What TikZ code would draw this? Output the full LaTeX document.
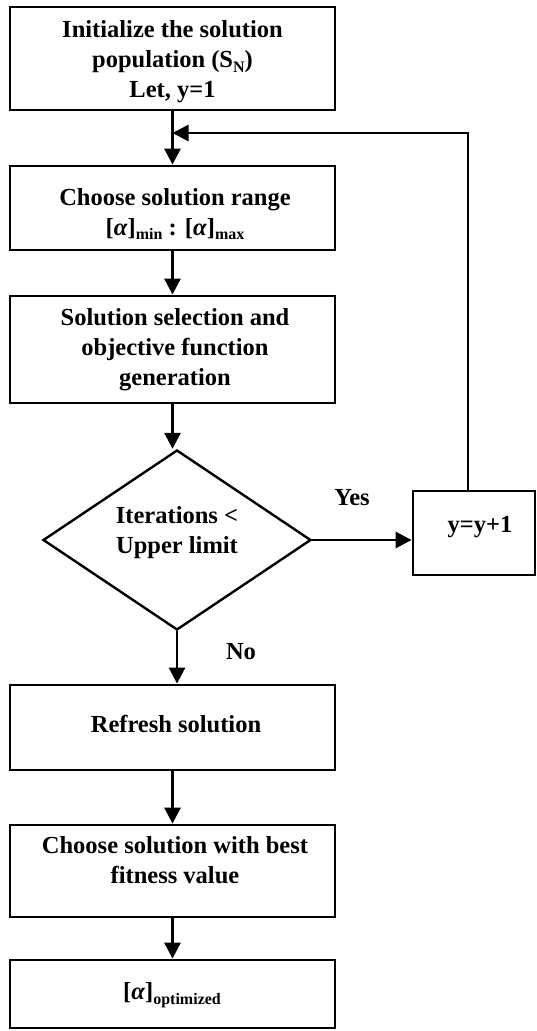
\documentclass[tikz,border=0pt]{standalone}
\usepackage{fontspec}
\setmainfont{Liberation Serif}
\usetikzlibrary{arrows.meta,shapes.geometric}

% lowered small subscript in the box texts
\newcommand{\lowsub}[1]{\raisebox{-4.5pt}{\fontsize{16}{16}\selectfont #1}}

\begin{document}
\begin{tikzpicture}[x=1pt,y=-1pt,
  box/.style={draw=black,line width=2.8pt,rectangle,inner sep=0pt,minimum width=325pt},
  smallbox/.style={draw=black,line width=2.8pt,rectangle,inner sep=0pt,minimum width=122pt,minimum height=84pt},
  decision/.style={draw=black,line width=2.4pt,diamond,inner sep=0pt,minimum width=268pt,minimum height=180pt},
  txt/.style={align=center,font=\fontsize{24.5}{30}\selectfont\bfseries,inner sep=0pt},
  lbl/.style={font=\fontsize{24.5}{30}\selectfont\bfseries,inner sep=0pt},
  arr/.style={draw=black,line width=2.8pt,-{Triangle[length=16pt,width=16pt]}},
]
\useasboundingbox (0,0) rectangle (536,1031);

% process boxes
\node[box,minimum height=103pt] (b1) at (172.5,58.5) {};
\node[box,minimum height=84pt]  (b2) at (172.5,208) {};
\node[box,minimum height=107pt] (b3) at (172.5,349.5) {};
\node[decision] (d) at (177,540) {};
\node[smallbox] (yb) at (474,533) {};
\node[box,minimum height=85pt]  (b4) at (172.5,727.5) {};
\node[box,minimum height=92pt]  (b5) at (172.5,871) {};
\node[box,minimum height=68pt]  (b6) at (172.5,994) {};

% box texts
\node[txt] (t1) at (172.5,62) {Initialize the solution\\population (S\lowsub{N})\\Let, y=1};
\node[txt] (t2) at (175,214) {Choose solution range\\{[}\textit{α}{]}\lowsub{min} : {[}\textit{α}{]}\lowsub{max}};
\node[txt] (t3) at (175,350) {Solution selection and\\objective function\\generation};
\node[txt] (td) at (177,533) {Iterations <\\Upper limit};
\node[txt] (ty) at (480,527) {y=y+1};
\node[txt] (t4) at (176,724) {Refresh solution};
\node[txt] (t5) at (175,860) {Choose solution with best\\fitness value};
\node[txt] (t6) at (172,995) {{[}\textit{α}{]}\lowsub{optimized}};

% branch labels
\node[lbl] (yes) at (352,498) {Yes};
\node[lbl] (no) at (241,652) {No};

% loop-back path
\coordinate (loop) at (468,133);

% connectors
\draw[arr] (b1.south) -- (b2.north);
\draw[arr] (b2.south) -- (b3.north);
\draw[arr] (b3.south) -- (b3.south |- d.north);
\draw[arr] (d.east) -- (d.east -| yb.west);
\draw[arr] (yb.north -| loop) -- (loop) -- (b1.south |- loop);
\draw[arr] (d.south) -- (d.south |- b4.north);
\draw[arr] (b4.south) -- (b5.north);
\draw[arr] (b5.south) -- (b6.north);
\end{tikzpicture}
\end{document}
